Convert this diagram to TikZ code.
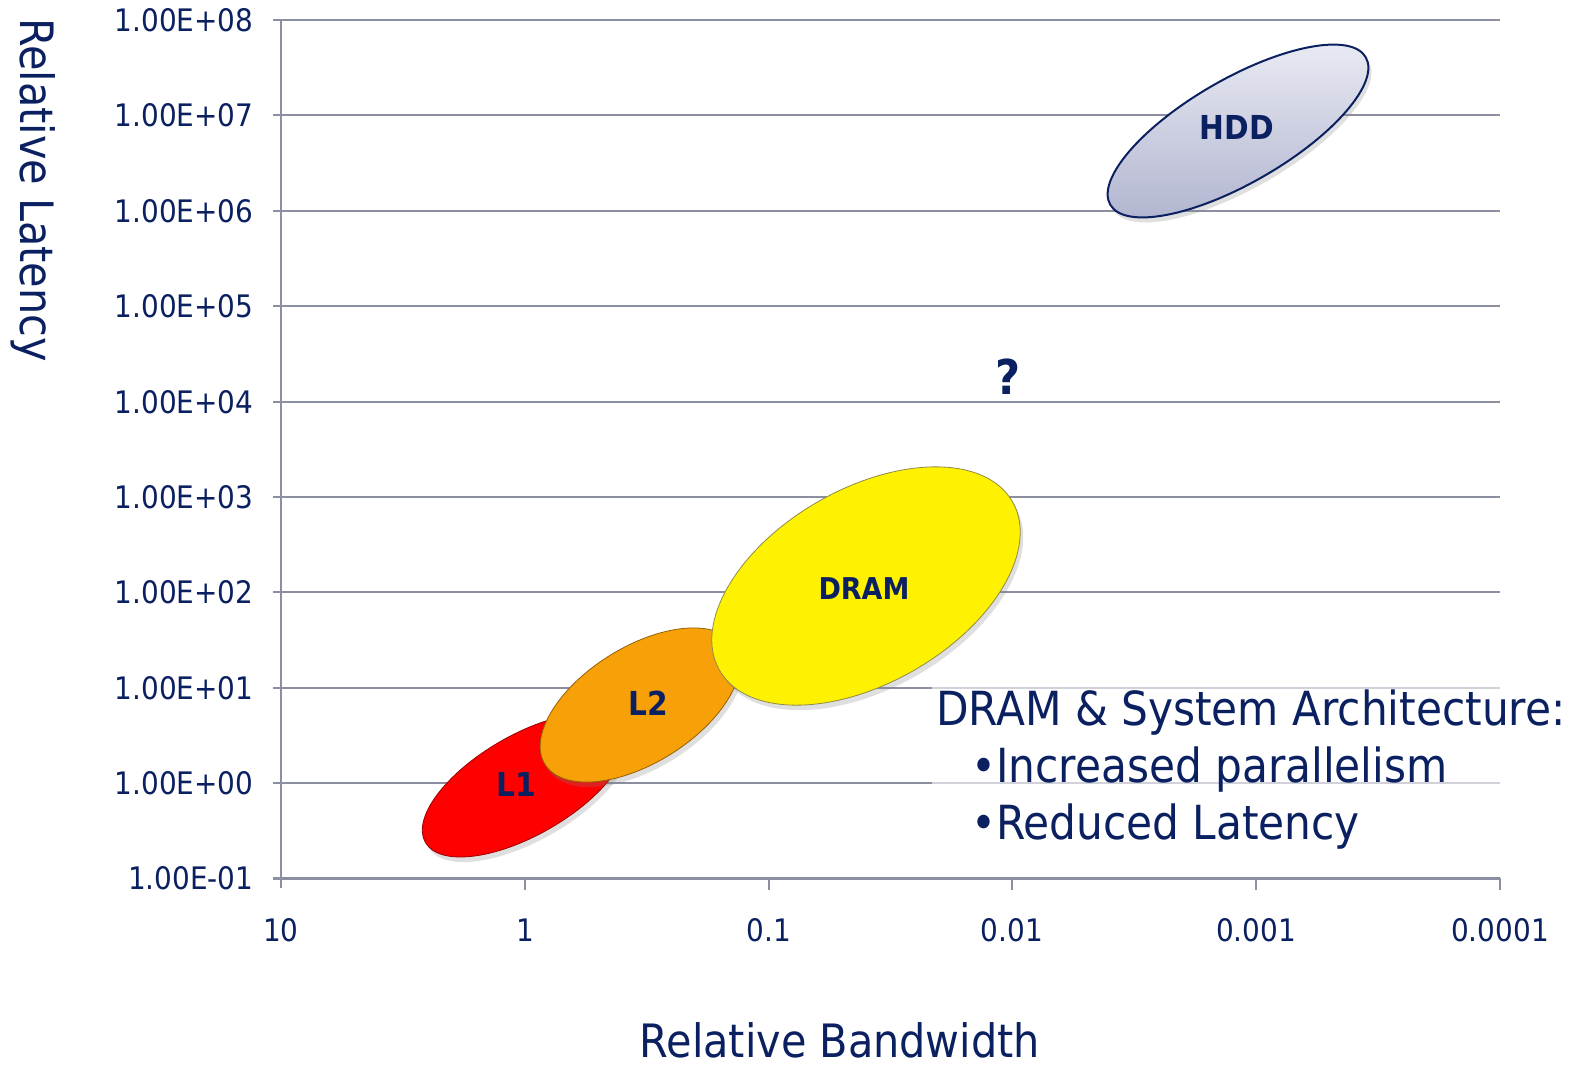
\documentclass[tikz,border=0pt]{standalone}
\usepackage{fontspec}
\setmainfont{DejaVu Sans Condensed}
\usetikzlibrary{shapes.geometric,shadows}
\definecolor{navy}{RGB}{10,32,96}
\definecolor{gridgrey}{RGB}{140,143,162}
\definecolor{hddlight}{RGB}{236,237,245}
\definecolor{hdddark}{RGB}{178,182,208}
\definecolor{l2orange}{RGB}{247,160,8}

\tikzset{
    grid line/.style={gridgrey, line width=2pt},
    ytick/.style={anchor=east, text=navy, font=\fontsize{31pt}{37pt}\selectfont},
    xtick/.style={text=navy, font=\fontsize{31pt}{37pt}\selectfont},
    axis title/.style={text=navy, font=\fontsize{46pt}{54pt}\selectfont},
    blob/.style={ellipse, inner sep=0pt, drop shadow={shadow xshift=3pt, shadow yshift=-5pt, opacity=0.25}},
    blob label/.style={text=navy, font=\fontsize{33pt}{38pt}\selectfont\bfseries}
}

\begin{document}
\begin{tikzpicture}[x=1pt, y=-1pt]
    \useasboundingbox[fill=white] (0,0) rectangle (1583,1069);
    % horizontal grid
    \draw[grid line] (273,20) -- (1500,20);
    \draw[grid line] (273,115) -- (1500,115);
    \draw[grid line] (273,211) -- (1500,211);
    \draw[grid line] (273,306) -- (1500,306);
    \draw[grid line] (273,402) -- (1500,402);
    \draw[grid line] (273,497) -- (1500,497);
    \draw[grid line] (273,592) -- (1500,592);
    \draw[grid line] (273,688) -- (1500,688);
    \draw[grid line] (273,783) -- (1500,783);
    \draw[grid line, line width=3pt] (273,878) -- (1500,878);
    % axis and ticks
    \draw[grid line] (281,20) -- (281,888);
    \draw[grid line] (525,878) -- (525,890);
    \draw[grid line] (769,878) -- (769,890);
    \draw[grid line] (1012,878) -- (1012,890);
    \draw[grid line] (1256,878) -- (1256,890);
    \draw[grid line] (1500,878) -- (1500,890);
    % y labels
    \node[ytick] (y8) at (257,20) {1.00E+08};
    \node[ytick] (y7) at (257,115) {1.00E+07};
    \node[ytick] (y6) at (257,211) {1.00E+06};
    \node[ytick] (y5) at (257,306) {1.00E+05};
    \node[ytick] (y4) at (257,402) {1.00E+04};
    \node[ytick] (y3) at (257,497) {1.00E+03};
    \node[ytick] (y2) at (257,592) {1.00E+02};
    \node[ytick] (y1) at (257,688) {1.00E+01};
    \node[ytick] (y0) at (257,783) {1.00E+00};
    \node[ytick] (ym) at (257,878) {1.00E-01};
    % x labels
    \node[xtick] (x10) at (281,930) {10};
    \node[xtick] (x1) at (525,930) {1};
    \node[xtick] (xa) at (769,930) {0.1};
    \node[xtick] (xb) at (1012,930) {0.01};
    \node[xtick] (xc) at (1256,930) {0.001};
    \node[xtick] (xd) at (1500,930) {0.0001};
    % axis titles
    \node[axis title, rotate=-90] (ytitle) at (33,190) {Relative Latency};
    \node[axis title] (xtitle) at (840,1040) {Relative Bandwidth};
    % memory levels
    \node[blob, rotate=30, minimum width=230pt, minimum height=100pt,
          fill=red, draw=red!60!black, line width=0.8pt] (l1) at (525,785) {};
    \node[blob, rotate=32, minimum width=224pt, minimum height=116pt,
          fill=l2orange, draw=l2orange!60!black, line width=0.8pt] (l2) at (640,705) {};
    \node[blob, rotate=30, minimum width=338pt, minimum height=194pt,
          fill=yellow, draw=yellow!50!black, line width=0.8pt] (dram) at (866,586) {};
    \node[blob, rotate=30, minimum width=295pt, minimum height=104pt,
          top color=hddlight, bottom color=hdddark, draw=navy, line width=2pt] (hdd) at (1238,131) {};
    \node[blob label] (l1text) at (516,784) {L1};
    \node[blob label] (l2text) at (648,703) {L2};
    \node[blob label, font=\fontsize{30pt}{36pt}\selectfont\bfseries] (dramtext) at (864,589) {DRAM};
    \node[blob label] (hddtext) at (1237,127) {HDD};
    \node[text=navy, font=\fontsize{48pt}{56pt}\selectfont\bfseries] (qmark) at (1008,377) {?};
    % architecture note
    \node[anchor=north west, align=left, inner sep=4pt, text=navy,
          fill=white, fill opacity=0.6, text opacity=1,
          font=\fontsize{47pt}{57pt}\selectfont] (note) at (932,686)
        {DRAM \& System Architecture:\\
         \hspace*{35pt}•Increased parallelism\\
         \hspace*{35pt}•Reduced Latency};
\end{tikzpicture}
\end{document}
